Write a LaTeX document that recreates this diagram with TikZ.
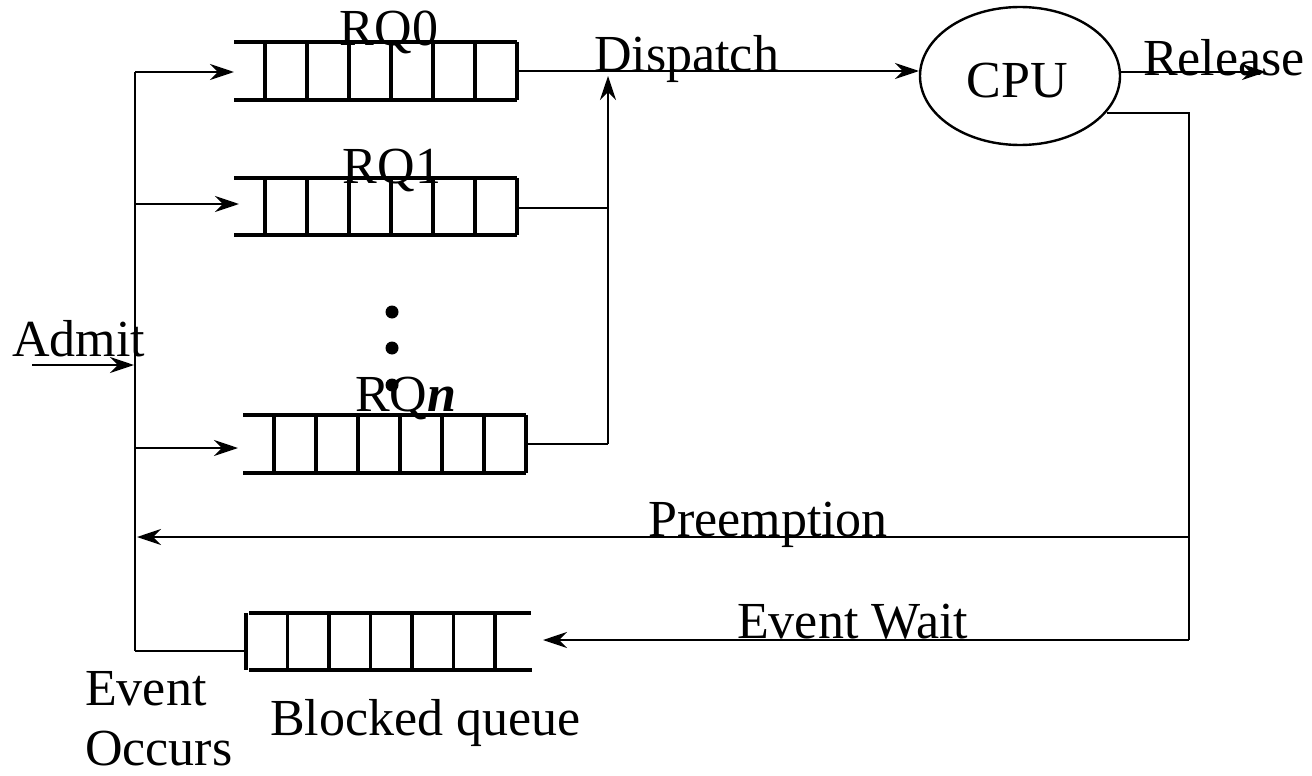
\documentclass[tikz,border=0pt]{standalone}
\usepackage{fontspec}
\setmainfont{Liberation Serif}
\usetikzlibrary{arrows.meta,shapes.geometric}
\begin{document}
\begin{tikzpicture}[x=1pt,y=-1pt,
  qline/.style={line width=3.2pt},
  conn/.style={line width=2.4pt},
  arr/.style={conn,-{Stealth[length=24pt,width=16pt,inset=8pt]}},
  lbl/.style={inner sep=0pt,font=\fontsize{52}{60}\selectfont}]
\useasboundingbox (0,0) rectangle (1312,776);
% ready queues: open left, closed right
\foreach \xa/\xb/\yt/\yb in {234/265/42/100, 234/265/178/235, 243/274/415/473}{
  \draw[qline] (\xa,\yt) -- (\xb+252,\yt);
  \draw[qline] (\xa,\yb) -- (\xb+252,\yb);
  \foreach \k in {0,...,6}{\draw[qline] (\xb+42*\k,\yt) -- (\xb+42*\k,\yb);}
}
% blocked queue: closed left, open right
\draw[qline] (249,613) -- (531,613);
\draw[qline] (249,670) -- (532,670);
\foreach \k in {0,...,6}{\draw[qline] (246+41.5*\k,613) -- (246+41.5*\k,670);}
% dots
\foreach \y in {312,348,385}{\fill (392,\y) circle (6.5);}
% nodes
\node[ellipse,draw,line width=2.4pt,minimum width=200pt,minimum height=138pt,inner sep=0pt] (cpu) at (1020,76) {};
\node[lbl,anchor=base] (cput) at (1017,97) {CPU};
\node[lbl,anchor=base] (rq0) at (389,46) {RQ0};
\node[lbl,anchor=base] (rq1) at (392,183) {RQ1};
\node[lbl,anchor=base west] (rqn) at (355,411) {RQ\textbf{\textit{n}}};
\node[lbl,anchor=base west] (disp) at (594,72) {Dispatch};
\node[lbl,anchor=base west] (rel) at (1143,75) {Release};
\node[lbl,anchor=base west] (adm) at (12,356) {Admit};
\node[lbl,anchor=base west] (pre) at (648,536) {Preemption};
\node[lbl,anchor=base west] (ew) at (737,638) {Event Wait};
\node[lbl,anchor=base west] (ev1) at (85,705) {Event};
\node[lbl,anchor=base west] (ev2) at (85,765) {Occurs};
\node[lbl,anchor=base west] (bq) at (270,735) {Blocked queue};
% coordinates
\coordinate (admS) at (32,365);
\coordinate (admE) at (134,365);
\coordinate (LT) at (135,72);
\coordinate (LB) at (135,651);
\coordinate (in0) at (234,72);
\coordinate (s1) at (136,204);
\coordinate (in1) at (239,204);
\coordinate (sn) at (136,448);
\coordinate (inn) at (238,448);
\coordinate (bqin) at (246,651);
\coordinate (out0) at (517,71);
\coordinate (out1) at (517,208);
\coordinate (outn) at (526,444);
\coordinate (d1) at (608,208);
\coordinate (dn) at (608,444);
\coordinate (dtop) at (608,76);
\coordinate (cpuin) at (919,71);
\coordinate (relS) at (1120,72);
\coordinate (relE) at (1266,72);
\coordinate (backS) at (1107,113);
\coordinate (RT) at (1189,113);
\coordinate (RP) at (1189,537);
\coordinate (RB) at (1189,640);
\coordinate (preE) at (137,537);
\coordinate (ewE) at (543,640);
% connectors
\draw[arr] (admS) -- (admE);
\draw[conn] (LT) -- (LB);
\draw[arr] (LT) -- (in0);
\draw[arr] (s1) -- (in1);
\draw[arr] (sn) -- (inn);
\draw[conn] (LB) -- (bqin);
\draw[arr] (out0) -- (cpuin);
\draw[conn] (out1) -- (d1);
\draw[conn] (outn) -- (dn);
\draw[arr] (dn) -- (dtop);
\draw[arr] (relS) -- (relE);
\draw[conn] (backS) -- (RT) -- (RB);
\draw[arr] (RP) -- (preE);
\draw[arr] (RB) -- (ewE);
\end{tikzpicture}
\end{document}
